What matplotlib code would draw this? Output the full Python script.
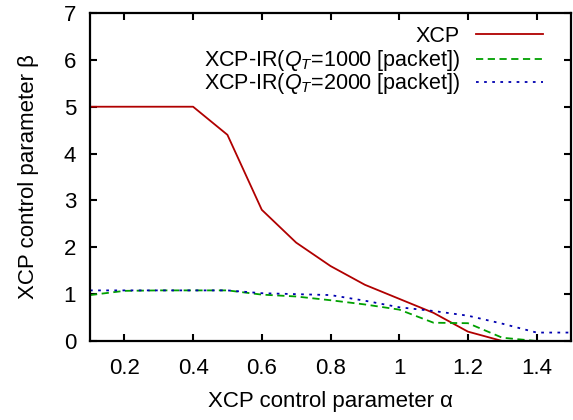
import matplotlib
matplotlib.use("Agg")
import matplotlib.pyplot as plt

plt.rcParams['font.family'] = ['Liberation Sans', 'DejaVu Sans']
plt.rcParams['mathtext.fontset'] = 'custom'
plt.rcParams['mathtext.rm'] = 'Liberation Sans'
plt.rcParams['mathtext.it'] = 'Liberation Sans:italic'

alpha = [0.1, 0.2, 0.3, 0.4, 0.5, 0.6, 0.7, 0.8, 0.9, 1.0, 1.1, 1.2, 1.3, 1.4, 1.5]
xcp = [5.0, 5.0, 5.0, 5.0, 4.4, 2.8, 2.1, 1.6, 1.2, 0.9, 0.6, 0.2, 0.0, 0.0, 0.0]
xcp_ir_1000 = [0.98, 1.07, 1.08, 1.08, 1.08, 0.99, 0.95, 0.87, 0.78, 0.67, 0.39, 0.38, 0.07, 0.0, 0.0]
xcp_ir_2000 = [1.08, 1.08, 1.08, 1.08, 1.08, 1.02, 1.0, 0.98, 0.86, 0.72, 0.64, 0.54, 0.37, 0.18, 0.18]

labels = ['XCP', 'XCP-IR($Q_T$=1000 [packet])', 'XCP-IR($Q_T$=2000 [packet])']
xticks = [0.2, 0.4, 0.6, 0.8, 1.0, 1.2, 1.4]
xticklabels = ['0.2', '0.4', '0.6', '0.8', '1', '1.2', '1.4']
yticks = [0, 1, 2, 3, 4, 5, 6, 7]

FS = 16
LFS = 15.5
W, H = 573, 420
AX_L, AX_R, AX_T, AX_B = 90, 571, 13, 341
fig = plt.figure(figsize=(W / 100, H / 100), dpi=100)
ax = fig.add_axes([AX_L / W, (H - AX_B) / H, (AX_R - AX_L) / W, (AX_B - AX_T) / H])

styles = [dict(color='#b00000', lw=1.3),
          dict(color='#00a000', lw=1.3, dashes=(4, 2.5)),
          dict(color='#0000b0', lw=1.3, dashes=(1.5, 3))]
series = [xcp, xcp_ir_1000, xcp_ir_2000]
for ys, st in zip(series, styles):
    ax.plot(alpha, ys, **st)

ax.set_xlim(0.1, 1.5)
ax.set_ylim(0, 7)
ax.set_xticks(xticks)
ax.set_xticklabels(xticklabels)
ax.set_yticks(yticks)
ax.tick_params(direction='in', top=True, right=True, length=5, width=1.5,
               labelsize=FS)
ax.tick_params(axis='x', pad=12)
ax.tick_params(axis='y', pad=10)
for s in ax.spines.values():
    s.set_linewidth(1.6)

ax.set_xlabel('XCP control parameter α', fontsize=FS, labelpad=9)
ax.set_ylabel('XCP control parameter β', fontsize=FS, labelpad=18)

# manual legend (positions in pixels -> axes fraction)
def fx(px):
    return (px - AX_L) / (AX_R - AX_L)

def fy(py):
    return (AX_B - py) / (AX_B - AX_T)

row_y = [34.3, 58.5, 81.7]
for lab, st, ry in zip(labels, styles, row_y):
    ax.plot([fx(476), fx(543)], [fy(ry), fy(ry)], transform=ax.transAxes,
            clip_on=False, **st)
    ax.text(fx(460), fy(ry + 7.5), lab, transform=ax.transAxes, ha='right',
            va='baseline', fontsize=LFS)

fig.savefig('out.png', dpi=100)
